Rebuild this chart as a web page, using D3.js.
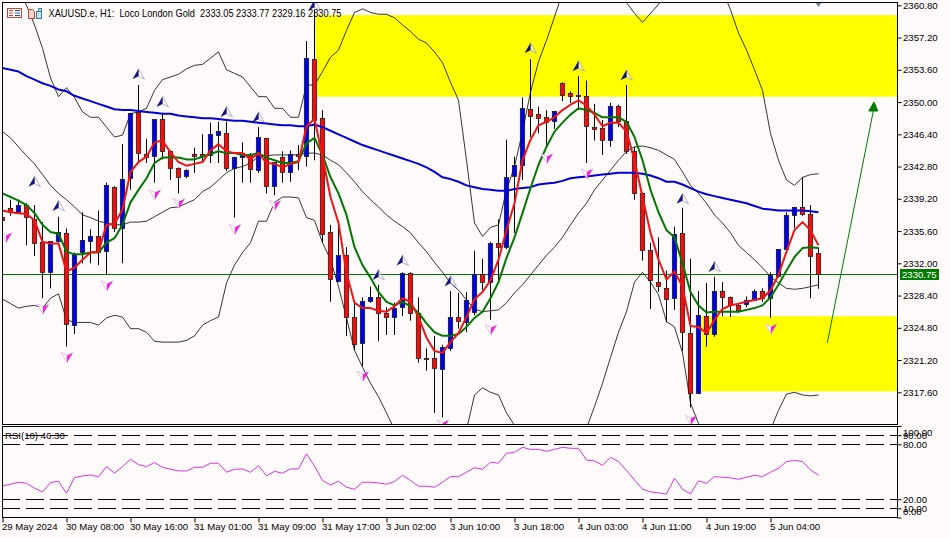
<!DOCTYPE html>
<html><head><meta charset="utf-8">
<script src="https://cdn.jsdelivr.net/npm/d3@7/dist/d3.min.js"></script>
<style>
html,body{margin:0;padding:0;background:#fffafa;overflow:hidden}
text{font-family:"Liberation Sans",sans-serif;font-size:9.6px;fill:#000}
</style></head><body>
<svg id="c" width="950" height="538"></svg>
<script>
const opens=[2337.1,2338.1,2337.7,2338.4,2336.9,2334.3,2330.9,2334.4,2335.3,2325.1,
2333.2,2334.4,2335.0,2333.3,2340.5,2335.9,2341.4,2348.8,2344.2,2343.9,
2348.0,2344.5,2342.6,2341.7,2344.2,2344.2,2344.1,2346.3,2346.5,2342.6,
2343.8,2344.2,2342.3,2345.9,2340.5,2343.8,2342.1,2344.1,2344.0,2354.8,
2348.2,2335.4,2330.0,2332.9,2326.0,2323.0,2327.7,2328.2,2326.4,2326.0,
2327.1,2330.9,2326.4,2321.4,2321.4,2320.2,2322.5,2325.9,2325.4,2326.6,
2330.8,2329.9,2334.2,2333.8,2341.7,2342.9,2349.2,2348.6,2348.3,2347.8,
2352.1,2350.9,2350.7,2350.6,2347.2,2347.0,2345.7,2349.5,2347.8,2344.5,
2339.8,2333.4,2329.9,2329.2,2328.1,2335.3,2324.2,2317.5,2326.1,2324.1,
2328.9,2328.2,2327.3,2327.3,2327.9,2328.8,2328.0,2330.5,2333.5,2337.3,
2338.2,2337.5,2333.05];
const highs=[2337.3,2339.1,2339.1,2338.7,2338.5,2336.6,2334.4,2337.2,2335.9,2333.2,
2337.7,2335.8,2337.9,2341.0,2340.6,2345.3,2348.8,2351.9,2345.9,2348.0,
2348.8,2344.6,2342.7,2342.5,2344.9,2346.4,2347.7,2347.8,2347.8,2343.9,
2345.5,2344.3,2347.2,2346.0,2343.3,2344.5,2344.6,2345.2,2356.8,2360.3,
2349.1,2336.3,2336.8,2333.8,2327.6,2328.2,2329.4,2329.6,2327.1,2327.6,
2331.0,2331.0,2328.2,2322.5,2323.9,2322.9,2328.9,2328.7,2328.8,2333.4,
2332.5,2334.4,2336.9,2345.8,2343.9,2350.5,2354.8,2349.5,2349.1,2349.0,
2352.2,2351.2,2352.9,2352.4,2349.8,2348.0,2349.9,2349.7,2351.9,2345.0,
2339.9,2334.3,2334.9,2331.2,2336.1,2338.2,2332.5,2328.9,2329.8,2330.5,
2329.9,2328.3,2327.5,2328.3,2329.1,2329.2,2331.0,2333.6,2337.7,2338.3,
2341.6,2338.5,2333.77];
const lows=[2336.6,2337.3,2337.5,2334.0,2332.8,2328.1,2329.2,2334.3,2322.7,2324.1,
2332.0,2332.0,2331.8,2330.7,2335.5,2332.0,2340.2,2343.2,2343.2,2341.0,
2343.6,2341.3,2339.8,2341.5,2342.1,2343.2,2343.2,2343.2,2342.3,2337.1,
2341.0,2341.0,2342.1,2339.8,2339.6,2341.0,2341.1,2342.4,2342.8,2343.5,
2334.3,2327.7,2329.9,2323.9,2322.3,2320.5,2327.6,2323.3,2324.0,2324.0,
2326.1,2325.6,2320.9,2320.0,2315.3,2314.8,2322.2,2324.7,2324.3,2326.2,
2329.0,2325.7,2329.9,2333.6,2335.4,2341.3,2346.1,2346.5,2344.9,2347.0,
2350.1,2349.9,2349.1,2343.2,2345.7,2344.1,2345.0,2347.2,2344.2,2339.1,
2332.3,2326.9,2328.8,2325.4,2326.8,2322.2,2315.9,2317.4,2322.7,2323.8,
2326.1,2326.0,2326.5,2327.1,2327.8,2327.7,2325.9,2330.4,2333.4,2335.9,
2337.3,2328.1,2329.16];
const closes=[2336.8,2337.6,2338.5,2337.1,2334.2,2330.9,2334.4,2335.4,2325.1,2333.0,
2334.5,2335.0,2333.2,2340.7,2335.9,2341.4,2348.7,2344.2,2343.9,2348.0,
2344.4,2342.6,2341.6,2342.4,2344.0,2344.0,2346.4,2346.7,2342.6,2343.8,
2344.3,2342.5,2346.0,2340.5,2343.2,2342.1,2344.1,2343.9,2354.9,2348.0,
2335.2,2330.1,2332.9,2326.0,2323.0,2327.7,2328.2,2326.4,2326.0,2327.0,
2330.9,2326.4,2321.4,2321.3,2320.3,2322.6,2326.0,2325.4,2327.8,2330.8,
2329.9,2334.2,2333.8,2341.6,2342.9,2349.3,2348.4,2348.2,2347.7,2348.9,
2350.8,2350.6,2350.6,2347.2,2347.0,2345.7,2349.5,2347.8,2344.4,2339.8,
2333.4,2330.0,2329.4,2328.0,2335.2,2324.3,2317.5,2326.2,2324.1,2328.9,
2328.2,2327.3,2326.7,2327.8,2328.9,2328.0,2330.6,2333.5,2337.3,2338.2,
2337.4,2332.8,2330.75];
const slowMA=[2353.8,2353.6,2353.4,2352.9,2352.5,2352.1,2351.8,2351.4,2351.2,2350.7,
2350.4,2350.1,2349.8,2349.5,2349.2,2349.1,2349.1,2349.0,2348.9,2348.8,
2348.7,2348.7,2348.5,2348.4,2348.3,2348.2,2348.2,2348.1,2348.0,2347.9,
2347.9,2347.8,2347.7,2347.6,2347.5,2347.4,2347.4,2347.3,2347.3,2347.5,
2347.2,2346.8,2346.4,2346.0,2345.6,2345.2,2344.9,2344.6,2344.3,2344.0,
2343.7,2343.4,2343.1,2342.7,2342.2,2341.6,2341.4,2341.1,2340.7,2340.5,
2340.3,2340.2,2340.1,2340.1,2340.3,2340.4,2340.5,2340.8,2340.9,2341.0,
2341.2,2341.5,2341.6,2341.7,2341.8,2341.9,2342.0,2342.1,2342.1,2342.1,
2342.0,2341.8,2341.5,2341.1,2341.1,2340.8,2340.4,2340.0,2339.7,2339.5,
2339.3,2339.1,2338.9,2338.7,2338.4,2338.1,2338.0,2337.9,2337.9,2337.9,
2337.9,2337.8,2337.7];
const fastMA=[2337.9,2337.7,2337.6,2337.5,2336.8,2334.4,2334.2,2334.2,2331.1,2331.5,
2332.4,2333.2,2333.3,2336.3,2336.4,2338.0,2342.2,2343.3,2343.9,2345.5,
2345.7,2344.4,2343.3,2342.9,2343.1,2343.3,2344.6,2345.3,2344.5,2344.3,
2344.3,2343.6,2344.3,2343.2,2343.1,2342.7,2343.1,2343.3,2347.3,2348.1,
2343.9,2339.4,2336.5,2330.9,2327.6,2327.0,2327.0,2326.7,2326.6,2327.2,
2328.1,2327.7,2326.0,2323.7,2322.2,2322.0,2323.2,2324.2,2326.0,2328.0,
2328.8,2330.1,2332.4,2335.7,2338.7,2343.5,2345.8,2347.4,2347.8,2348.3,
2349.1,2349.7,2350.2,2349.6,2348.6,2347.3,2347.7,2347.7,2346.7,2343.5,
2339.4,2335.4,2332.4,2330.2,2331.1,2329.4,2325.0,2324.9,2324.2,2325.7,
2326.9,2327.3,2327.5,2327.7,2327.9,2328.1,2329.0,2330.7,2333.3,2335.7,
2336.6,2335.7,2334.0];
const midMA=[2339.8,2339.4,2339.0,2338.5,2337.6,2336.3,2335.5,2335.3,2333.3,2333.0,
2333.0,2333.2,2333.2,2334.3,2334.8,2336.3,2338.8,2340.2,2341.5,2343.2,
2343.8,2343.8,2343.8,2343.6,2343.6,2343.9,2344.2,2344.5,2344.3,2344.3,
2344.1,2344.1,2344.3,2343.8,2343.5,2343.2,2343.2,2343.4,2345.4,2346.0,
2344.1,2341.6,2339.8,2337.4,2333.8,2331.8,2330.4,2328.8,2327.7,2327.3,
2327.7,2327.2,2326.5,2325.3,2324.3,2323.9,2323.9,2324.1,2324.9,2325.9,
2326.6,2328.1,2329.9,2332.6,2334.9,2337.6,2340.4,2343.0,2345.0,2346.7,
2347.7,2348.6,2349.3,2349.1,2348.8,2348.3,2348.3,2348.3,2347.8,2346.1,
2343.5,2340.2,2337.7,2335.7,2334.9,2332.0,2328.8,2327.3,2326.5,2326.6,
2326.6,2326.6,2326.6,2326.8,2327.0,2327.3,2328.2,2329.6,2331.2,2332.7,
2333.7,2333.8,2333.7];
const bandUpper=[2365.9,2364.2,2362.5,2360.8,2358.6,2356.0,2352.7,2350.6,2351.6,2350.5,
2348.9,2348.3,2348.3,2347.2,2346.1,2346.3,2348.7,2348.9,2349.3,2351.3,
2352.5,2352.8,2353.1,2353.7,2354.1,2354.2,2354.9,2355.6,2353.6,2353.2,
2352.8,2351.7,2350.6,2350.6,2349.3,2349.3,2348.3,2348.3,2351.9,2351.9,
2353.4,2355.0,2355.8,2358.0,2360.0,2360.4,2360.0,2359.8,2359.8,2359.4,
2358.6,2357.9,2357.0,2356.6,2355.6,2354.4,2352.2,2350.2,2343.5,2336.5,
2335.0,2336.0,2336.3,2340.2,2342.8,2346.7,2351.1,2354.5,2356.9,2359.5,
2362.2,2364.2,2365.3,2365.3,2365.3,2364.7,2363.8,2362.3,2361.1,2359.9,
2358.9,2359.9,2360.9,2362.7,2365.9,2365.9,2365.9,2365.9,2364.7,2363.6,
2362.5,2360.3,2357.7,2355.8,2353.6,2351.3,2346.5,2343.5,2341.3,2340.7,
2341.6,2341.9,2342.0];
const bandMid=[2346.7,2346.0,2345.0,2344.0,2343.1,2341.9,2340.7,2339.8,2339.1,2338.3,
2337.4,2337.1,2336.7,2336.5,2336.3,2336.3,2336.6,2336.6,2336.7,2337.2,
2337.7,2338.2,2338.3,2338.7,2339.1,2340.0,2340.5,2341.3,2342.1,2342.6,
2342.8,2343.2,2343.9,2344.0,2344.1,2344.1,2344.1,2344.1,2344.3,2344.3,
2344.1,2343.5,2343.0,2342.1,2341.1,2340.0,2339.1,2338.3,2337.4,2336.7,
2336.1,2335.4,2334.3,2333.3,2332.1,2331.0,2329.8,2329.0,2327.9,2326.9,
2326.6,2326.7,2326.8,2327.6,2328.7,2329.6,2330.7,2331.8,2332.9,2333.8,
2334.9,2336.3,2337.6,2338.7,2340.2,2341.3,2342.4,2343.5,2344.5,2345.0,
2345.1,2344.9,2344.6,2344.1,2343.6,2342.2,2340.7,2339.8,2338.7,2337.4,
2336.5,2335.4,2334.0,2333.2,2332.4,2331.5,2330.5,2329.8,2329.2,2329.1,
2329.2,2329.4,2329.6];
const bandLower=[2328.0,2327.5,2327.0,2327.2,2327.3,2327.0,2328.1,2328.6,2325.7,2325.4,
2325.4,2325.4,2325.1,2325.9,2326.2,2326.0,2324.7,2324.7,2324.3,2323.3,
2323.2,2323.2,2323.2,2323.4,2323.9,2325.1,2325.6,2326.0,2329.8,2331.8,
2333.2,2334.3,2336.7,2336.7,2338.8,2339.4,2339.4,2339.3,2337.1,2336.8,
2334.3,2332.4,2329.4,2325.9,2322.3,2320.4,2318.6,2317.1,2315.3,2313.4,
2311.7,2310.6,2309.5,2308.9,2308.4,2308.4,2309.5,2311.2,2313.4,2317.3,
2318.1,2317.6,2317.3,2315.3,2313.9,2312.3,2310.6,2309.5,2308.9,2308.9,
2309.5,2310.6,2312.0,2313.6,2316.0,2318.6,2321.5,2324.3,2326.6,2329.9,
2331.0,2329.9,2328.5,2325.5,2324.9,2322.0,2316.4,2314.1,2312.3,2311.2,
2310.0,2309.5,2309.5,2310.0,2311.2,2312.0,2313.4,2315.6,2317.4,2317.6,
2317.3,2317.2,2317.3];
const rsiValues=[34.5,36.4,38.5,37.5,32.0,28.0,38.2,39.6,26.5,43.6,
45.5,46.5,44.4,55.6,48.4,55.6,63.6,57.8,55.6,60.0,
54.9,52.7,50.9,50.9,54.9,54.9,59.3,59.3,49.5,52.7,
53.1,49.5,56.7,45.5,50.5,48.4,53.1,53.1,69.5,56.4,
40.4,35.6,39.6,33.1,30.9,38.5,38.5,37.8,36.4,39.3,
46.2,40.4,34.2,34.2,33.1,38.5,44.7,44.7,49.5,54.5,
52.7,60.4,59.3,70.2,71.3,76.7,74.5,74.5,72.4,74.5,
76.7,75.6,75.6,62.9,61.8,57.1,65.8,61.1,51.3,41.1,
30.9,28.0,26.9,25.5,42.9,30.9,25.8,40.0,37.5,44.7,
44.0,43.3,41.8,44.0,46.2,44.7,49.5,53.8,61.1,62.5,
61.1,52.0,46.3];
const buyBars=[4,7,17,20,28,32,39,47,50,56,66,72,78,85,89];
const buyPrices=[2341.1,2338.4,2353.1,2350.0,2348.9,2348.3,2360.8,2330.7,2332.3,2330.0,2356.0,2354.0,2353.0,2339.2,2331.6];
const sellBars=[0.4,5,8,13,19,22,29,34,45,55,61,68,73,86,96];
const sellPrices=[2335.0,2327.0,2321.6,2329.6,2339.8,2338.8,2335.9,2338.6,2319.5,2314.1,2324.7,2343.8,2342.1,2314.6,2324.8];
const zoneStarts=[39.1,87.4];
const zoneTops=[2359.7,2326.1];
const zoneBottoms=[2350.6,2317.7];
const trendBars=[103.1,108.85];
const trendPrices=[2323.1,2349.0];
const priceTicks=[2360.8,2357.2,2353.6,2350,2346.4,2342.8,2339.2,2335.6,2332,2328.4,2324.8,2321.2,2317.6];
const rsiTicks=[100,90,80,20,10,0];
const rsiLevels=[90,80,20,10];
const timeTickBars=[0,8,16,24,32,40,48,56,64,72,80,88,96];
const timeLabels=["29 May 2024","30 May 08:00","30 May 16:00","31 May 01:00","31 May 09:00","31 May 17:00","3 Jun 02:00","3 Jun 10:00","3 Jun 18:00","4 Jun 03:00","4 Jun 11:00","4 Jun 19:00","5 Jun 04:00"];
const lastPrice=2330.75;
const rsiName="RSI(10) 46.30";
const titleText="XAUUSD.e, H1:  Loco London Gold  2333.05 2333.77 2329.16 2330.75";

[opens,highs,lows,closes,slowMA,fastMA,midMA,bandUpper,bandMid,bandLower,rsiValues].forEach((a,k)=>{if(a.length!==103)throw new Error("len "+k+" "+a.length)});

const L=2.5,R=897.5,T=2.5,B=424.5,RT=426.5,RB=517.5;
const svg=d3.select("#c");
const x=d3.scaleLinear().domain([0,102]).range([2.5,818.5]);
const y=d3.scaleLinear().domain([2360.8,2317.6]).range([5.3,392.3]);
const ry=d3.scaleLinear().domain([0,100]).range([517.5,426]);
const snap=v=>Math.round(v-0.5)+0.5;
const idx=d3.range(103);

const defs=svg.append("defs");
defs.append("clipPath").attr("id","mainClip").append("rect").attr("x",L).attr("y",T).attr("width",R-L).attr("height",B-T);
defs.append("clipPath").attr("id","rsiClip").append("rect").attr("x",L).attr("y",RT).attr("width",R-L).attr("height",RB-RT);

const g=svg.append("g").attr("clip-path","url(#mainClip)");
g.selectAll("rect.zone").data(zoneStarts).join("rect").attr("class","zone")
 .attr("x",d=>x(d)).attr("width",(d)=>R-x(d))
 .attr("y",(d,i)=>y(zoneTops[i])).attr("height",(d,i)=>y(zoneBottoms[i])-y(zoneTops[i]))
 .attr("fill","#ffff00");
g.append("line").attr("x1",L).attr("x2",R).attr("y1",snap(y(lastPrice))).attr("y2",snap(y(lastPrice))).attr("stroke","#007a00").attr("stroke-width",1);

const line=arr=>d3.line().x(i=>x(i)).y(i=>y(arr[i]))(idx);
[bandUpper,bandMid,bandLower].forEach(a=>g.append("path").attr("d",line(a)).attr("fill","none").attr("stroke","#000").attr("stroke-width",0.8));

const c=g.selectAll("g.k").data(idx).join("g").attr("class","k");
c.append("line").attr("x1",i=>x(i)).attr("x2",i=>x(i)).attr("y1",i=>y(highs[i])).attr("y2",i=>y(lows[i])).attr("stroke","#000").attr("stroke-width",1);
c.append("rect").attr("x",i=>x(i)-2.2).attr("width",4.4)
 .attr("y",i=>snap(y(Math.max(opens[i],closes[i]))))
 .attr("height",i=>Math.max(1,Math.round(Math.abs(y(opens[i])-y(closes[i])))))
 .attr("fill",i=>closes[i]>opens[i]?"#0000e6":"#ee1010")
 .attr("stroke","#111").attr("stroke-width",0.7);

const thick=(a,col)=>g.append("path").attr("d",line(a)).attr("fill","none").attr("stroke",col).attr("stroke-width",2).attr("stroke-linejoin","round");
thick(slowMA,"#0000d8");
thick(midMA,"#007800");
thick(fastMA,"#ee1515");

const buy=g.selectAll("g.b").data(buyBars).join("g").attr("class","b")
 .attr("transform",(d,i)=>`translate(${x(d)},${y(buyPrices[i])})`);
buy.append("path").attr("d","M0,-5.5L6,5L0,2Z").attr("fill","#fffafa").attr("fill-opacity",0.55).attr("stroke","#9aa0c8").attr("stroke-width",0.8);
buy.append("path").attr("d","M0,-5.5L-6,5L0,2Z").attr("fill","#14147e");
const sell=g.selectAll("g.s").data(sellBars).join("g").attr("class","s")
 .attr("transform",(d,i)=>`translate(${x(d)},${y(sellPrices[i])})`);
sell.append("path").attr("d","M0.5,6L-5.5,-4L0.5,-1Z").attr("fill","#fff").attr("stroke","#f4a8ee").attr("stroke-width",0.8);
sell.append("path").attr("d","M0.5,6L6.5,-4L0.5,-1Z").attr("fill","#ee22e0");
g.append("path").attr("d",d3.line()([[x(102)-3.5,2],[x(102)+3.5,2],[x(102),7]])).attr("fill","#7d8799");

const tx=trendBars.map(x), ty=trendPrices.map(y);
g.append("line").attr("x1",tx[0]).attr("y1",ty[0]).attr("x2",tx[1]).attr("y2",ty[1]).attr("stroke","#007a00").attr("stroke-width",1);
g.append("path").attr("d",`M${tx[1]+0.7},${ty[1]-9}L${tx[1]+4.5},${ty[1]}L${tx[1]-4.5},${ty[1]}Z`).attr("fill","#007a00").attr("stroke","#007a00");

const rg=svg.append("g").attr("clip-path","url(#rsiClip)");
rg.selectAll("line.lv").data(rsiLevels).join("line").attr("class","lv")
 .attr("x1",2).attr("x2",R).attr("y1",d=>snap(ry(d))).attr("y2",d=>snap(ry(d)))
 .attr("stroke","#000").attr("stroke-dasharray","18 6").attr("stroke-width",1);
rg.append("path").attr("d",d3.line().x(i=>x(i)).y(i=>ry(rsiValues[i]))(idx)).attr("fill","none").attr("stroke","#dd33dd").attr("stroke-width",1);

[[T,B],[RT,RB]].forEach(([a,b])=>svg.append("rect").attr("x",L).attr("y",a).attr("width",R-L).attr("height",b-a).attr("fill","none").attr("stroke","#000"));

const fmt=d3.format(".2f");
const ax=svg.append("g").attr("transform",`translate(${R},0)`).call(d3.axisRight(y).tickValues(priceTicks).tickFormat(fmt).tickSize(4).tickPadding(1.5));
ax.select(".domain").remove();
const rx=svg.append("g").attr("transform",`translate(${R},0)`).call(d3.axisRight(ry).tickValues(rsiTicks).tickFormat(fmt).tickSize(4).tickPadding(1.5));
rx.select(".domain").remove();
rx.selectAll(".tick text").attr("dy",d=>d===100?"1em":d===0?"-0.3em":"0.32em");
const bx=svg.append("g").attr("transform",`translate(0,${RB})`).call(d3.axisBottom(x).tickValues(timeTickBars).tickFormat((d,i)=>timeLabels[i]).tickSize(5).tickPadding(1));
bx.select(".domain").remove();
bx.selectAll(".tick text").attr("text-anchor","start").attr("dx",-1);
svg.selectAll(".tick line").attr("stroke","#000");
svg.selectAll(".tick text").attr("fill","#000").style("font-family",'"Liberation Sans",sans-serif').style("font-size","9.6px");

svg.append("rect").attr("x",900).attr("y",269).attr("width",39).attr("height",11).attr("fill","#007a00");
svg.append("text").attr("x",902).attr("y",278).style("fill","#fff").text(d3.format(".2f")(lastPrice));

svg.append("text").attr("x",48.5).attr("y",17).attr("xml:space","preserve").style("white-space","pre").style("font-size","10.2px")
 .attr("textLength",293).attr("lengthAdjust","spacingAndGlyphs").text(titleText);
svg.append("text").attr("x",5).attr("y",439).text(rsiName);

const ic=svg.append("g");
ic.append("rect").attr("x",7.5).attr("y",8.5).attr("width",14).attr("height",9).attr("fill","#fff").attr("stroke","#d04030");
d3.range(3).forEach(k=>{ic.append("line").attr("x1",9).attr("x2",13).attr("y1",10.5+k*2.5).attr("y2",10.5+k*2.5).attr("stroke","#d04030");
 ic.append("line").attr("x1",15).attr("x2",20).attr("y1",10.5+k*2.5).attr("y2",10.5+k*2.5).attr("stroke","#2050c0");});
ic.append("path").attr("d","M28.5,9.5h4l2,2v7h-6z").attr("fill","#f6d8d0").attr("stroke","#c04030");
ic.append("path").attr("d","M36.5,11.5h5v7h-5z").attr("fill","#cfe4f2").attr("stroke","#2878b0");
ic.append("path").attr("d","M38.5,8.5h3v3h-3z").attr("fill","#cfe4f2").attr("stroke","#2878b0");
</script></body></html>
